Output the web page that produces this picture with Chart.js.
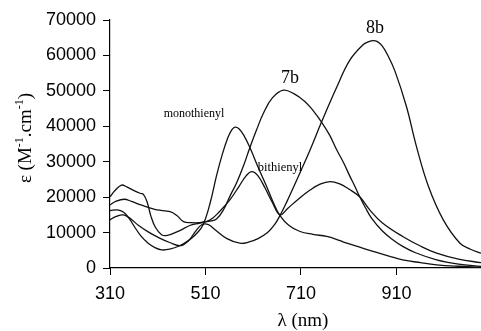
<!DOCTYPE html>
<html>
<head>
<meta charset="utf-8">
<script src="https://cdn.jsdelivr.net/npm/chart.js@4.4.1/dist/chart.umd.min.js"></script>
<style>
  html, body { margin: 0; padding: 0; background: #fff; }
  #chart { display: block; }
</style>
</head>
<body>
<canvas id="chart" width="481" height="331"></canvas>
<script>
// wavelengths (nm) and absorption (M-1.cm-1)
const monoX = [310, 325, 338, 350, 362, 375, 390, 405, 418, 435, 455, 475, 492, 505, 520, 533, 545, 556, 565, 572, 580, 590, 603, 620, 638, 652, 666, 685, 708, 735, 764, 790, 806, 830, 854, 896, 923, 960, 994, 1040, 1087];
const monoY = [16200, 16400, 15800, 14000, 11500, 9000, 7000, 5700, 5100, 5300, 6200, 7800, 9800, 12200, 18500, 26000, 32000, 36500, 39000, 39750, 39300, 37500, 34000, 28500, 23000, 18500, 14800, 12000, 10300, 9500, 8900, 7800, 7000, 6000, 5000, 3300, 2300, 1500, 900, 500, 250];

const biX = [310, 320, 334, 345, 358, 373, 380, 388, 396, 405, 418, 430, 455, 477, 498, 519, 540, 561, 580, 595, 607, 620, 635, 650, 666, 682, 705, 729, 750, 771, 790, 810, 833, 854, 880, 923, 960, 994, 1040, 1087];
const biY = [20100, 21800, 23400, 22900, 22000, 21100, 20800, 18500, 14500, 11500, 9400, 9200, 10500, 12000, 12700, 13500, 16000, 19200, 23000, 26000, 27200, 26000, 22500, 18500, 15000, 16800, 19500, 22000, 23700, 24400, 23800, 22300, 20100, 16400, 12800, 8900, 6200, 4200, 2500, 1500];

const b7X = [310, 322, 340, 355, 375, 395, 408, 436, 450, 464, 480, 498, 519, 533, 548, 562, 575, 590, 603, 617, 631, 650, 673, 695, 718, 735, 753, 770, 785, 800, 812, 823, 833, 845, 858, 880, 900, 923, 950, 994, 1040, 1087];
const b7Y = [17800, 18800, 19400, 18800, 17800, 16900, 16400, 15900, 14800, 13100, 12800, 12800, 13200, 13800, 16500, 20500, 24000, 29000, 34000, 39000, 43600, 48000, 50200, 49200, 47000, 44500, 41200, 37500, 33300, 29500, 26000, 23000, 20100, 17000, 14000, 10500, 8200, 6100, 4300, 2300, 1100, 450];

const b8X = [310, 322, 338, 352, 370, 390, 410, 435, 458, 475, 490, 502, 515, 530, 555, 582, 600, 620, 640, 655, 666, 680, 695, 711, 729, 753, 785, 812, 840, 852, 861, 870, 880, 892, 907, 931, 952, 977, 1008, 1043, 1065, 1087];
const b8Y = [13600, 14500, 15000, 14000, 12000, 10200, 8700, 7200, 6300, 7800, 10500, 12200, 12300, 10800, 8300, 7000, 7300, 8300, 10000, 12300, 14800, 18600, 23000, 27800, 33300, 41200, 51100, 58600, 63000, 63900, 64200, 63900, 62700, 60000, 55500, 45500, 34200, 23000, 13600, 7000, 5300, 4200];

const xTicks = [310, 510, 710, 910];
const yTicks = [0, 10000, 20000, 30000, 40000, 50000, 60000, 70000];

const curveLabels = [
  { text: 'monothienyl', x: 486, y: 43400, size: 12 },
  { text: 'bithienyl', x: 666, y: 28400, size: 12.5 },
  { text: '7b', x: 687, y: 53600, size: 18 },
  { text: '8b', x: 865, y: 67800, size: 18 }
];

const toPoints = (xs, ys) => xs.map((v, i) => ({ x: v, y: ys[i] }));
const serif = '"Liberation Serif", "Times New Roman", serif';

const textPlugin = {
  id: 'texts',
  afterDraw(chart) {
    const { ctx, scales: { x, y } } = chart;
    ctx.save();
    ctx.fillStyle = '#000';
    ctx.textAlign = 'center';
    ctx.textBaseline = 'middle';
    curveLabels.forEach(l => {
      ctx.font = l.size + 'px ' + serif;
      ctx.fillText(l.text, x.getPixelForValue(l.x), y.getPixelForValue(l.y));
    });

    ctx.font = '19px ' + serif;
    ctx.fillText('λ (nm)', 303, 321);

    // y title with superscripts
    const parts = [['ε (M', 0], ['-1', 1], ['.cm', 0], ['-1', 1], [')', 0]];
    const font = s => (s ? '12px ' : '19px ') + serif;
    let w = 0;
    parts.forEach(p => { ctx.font = font(p[1]); w += ctx.measureText(p[0]).width; });
    ctx.translate(31, 138);
    ctx.rotate(-Math.PI / 2);
    ctx.textAlign = 'left';
    ctx.textBaseline = 'alphabetic';
    let cx = -w / 2;
    parts.forEach(p => {
      ctx.font = font(p[1]);
      ctx.fillText(p[0], cx, p[1] ? -8 : 0);
      cx += ctx.measureText(p[0]).width;
    });
    ctx.restore();
  }
};

const series = [[monoX, monoY], [biX, biY], [b7X, b7Y], [b8X, b8Y]];

new Chart(document.getElementById('chart'), {
  type: 'line',
  data: {
    datasets: series.map(s => ({
      data: toPoints(s[0], s[1]),
      borderColor: '#111',
      borderWidth: 1.3,
      pointRadius: 0,
      fill: false,
      tension: 0.4
    }))
  },
  options: {
    responsive: false,
    animation: false,
    devicePixelRatio: 1,
    layout: { padding: { top: 20, right: 0, left: 0, bottom: 0 } },
    plugins: { legend: { display: false }, tooltip: { enabled: false } },
    scales: {
      x: {
        type: 'linear',
        min: 310,
        max: 1087,
        afterBuildTicks: s => { s.ticks = xTicks.map(v => ({ value: v })); },
        afterFit: s => { s.height = 63; },
        grid: { drawOnChartArea: false, drawTicks: true, tickLength: 7, color: '#000' },
        border: { display: true, color: '#000', width: 1.2 },
        ticks: { color: '#000', padding: 8, maxRotation: 0, font: { family: '"Liberation Sans", Arial, sans-serif', size: 18 } }
      },
      y: {
        min: 0,
        max: 70000,
        afterBuildTicks: s => { s.ticks = yTicks.map(v => ({ value: v })); },
        afterFit: s => { s.width = 110; },
        grid: { drawOnChartArea: false, drawTicks: true, tickLength: 7, color: '#000' },
        border: { display: true, color: '#000', width: 1.2 },
        ticks: { color: '#000', padding: 7, font: { family: '"Liberation Sans", Arial, sans-serif', size: 18 }, callback: v => String(v) }
      }
    }
  },
  plugins: [textPlugin]
});
</script>
</body>
</html>
